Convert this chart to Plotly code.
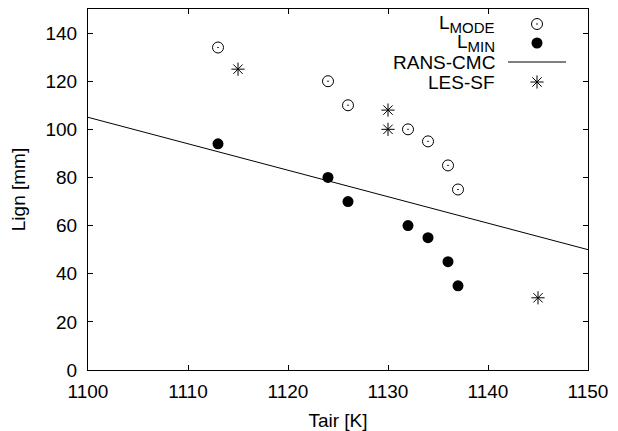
import plotly.graph_objects as go

# Data
tair_mode = [1113, 1124, 1126, 1132, 1134, 1136, 1137]
l_mode = [134, 120, 110, 100, 95, 85, 75]
tair_min = [1113, 1124, 1126, 1132, 1134, 1136, 1137]
l_min = [94, 80, 70, 60, 55, 45, 35]
tair_les = [1115, 1130, 1130, 1145]
l_les = [125, 108, 100, 30]
tair_rans = [1100, 1150]
l_rans = [105, 50]

x_ticks = [1100, 1110, 1120, 1130, 1140, 1150]
y_ticks = [0, 20, 40, 60, 80, 100, 120, 140]

legend_names = ["L<sub><span style='font-size:15px'>MODE</span></sub>",
                "L<sub><span style='font-size:15px'>MIN</span></sub>",
                "RANS-CMC", "LES-SF"]

FONT = "Liberation Sans, Arial, sans-serif"
FS = 19

fig = go.Figure()
fig.add_trace(go.Scatter(x=tair_rans, y=l_rans, mode="lines",
                         line=dict(color="black", width=1), showlegend=False))
fig.add_trace(go.Scatter(x=tair_mode, y=l_mode, mode="markers",
                         marker=dict(symbol="circle-open-dot", size=11, color="black",
                                     line=dict(width=1, color="black")), showlegend=False))
fig.add_trace(go.Scatter(x=tair_min, y=l_min, mode="markers",
                         marker=dict(symbol="circle", size=11, color="black"), showlegend=False))
fig.add_trace(go.Scatter(x=tair_les, y=l_les, mode="markers",
                         marker=dict(symbol="asterisk-open", size=11, color="black",
                                     line=dict(width=1, color="black")), showlegend=False))

# Manual gnuplot-style legend (text right-aligned, key on the right), in pixel-like coords
row_y = [24, 43, 62, 82]
key_x = 537
text_x = 497
fig.add_trace(go.Scatter(x=[key_x], y=[row_y[0]], xaxis="x2", yaxis="y2", mode="markers",
                         marker=dict(symbol="circle-open-dot", size=11, color="black",
                                     line=dict(width=1, color="black")), showlegend=False, hoverinfo="skip"))
fig.add_trace(go.Scatter(x=[key_x], y=[row_y[1]], xaxis="x2", yaxis="y2", mode="markers",
                         marker=dict(symbol="circle", size=11, color="black"), showlegend=False, hoverinfo="skip"))
fig.add_trace(go.Scatter(x=[508, 566], y=[row_y[2], row_y[2]], xaxis="x2", yaxis="y2", mode="lines",
                         line=dict(color="#555555", width=1.5), showlegend=False, hoverinfo="skip"))
fig.add_trace(go.Scatter(x=[key_x], y=[row_y[3]], xaxis="x2", yaxis="y2", mode="markers",
                         marker=dict(symbol="asterisk-open", size=11, color="black",
                                     line=dict(width=1, color="black")), showlegend=False, hoverinfo="skip"))

annotations = []
for name, yy in zip(legend_names, row_y):
    annotations.append(dict(x=text_x, y=yy, xref="x2", yref="y2", text=name, showarrow=False,
                            xanchor="right", yanchor="middle",
                            font=dict(family=FONT, size=FS, color="black")))

axis_common = dict(showgrid=False, zeroline=False, showline=True, linecolor="black", linewidth=1,
                   mirror="allticks", ticks="inside", ticklen=5, tickcolor="black",
                   tickfont=dict(family=FONT, size=FS, color="black"), automargin=False)

fig.update_layout(
    width=618, height=431,
    margin=dict(l=88, r=30, t=9, b=61),
    paper_bgcolor="white", plot_bgcolor="white",
    xaxis=dict(range=[1100, 1150], tickvals=x_ticks, ticklabelstandoff=4,
               title=dict(text="Tair [K]", font=dict(family=FONT, size=FS, color="black"), standoff=14),
               **axis_common),
    yaxis=dict(range=[0, 150], tickvals=y_ticks, ticklabelstandoff=6,
               title=dict(text="Lign [mm]", font=dict(family=FONT, size=FS, color="black"), standoff=14),
               **axis_common),
    xaxis2=dict(range=[88, 588], overlaying="x", visible=False, fixedrange=True),
    yaxis2=dict(range=[370, 9], overlaying="y", visible=False, fixedrange=True),
    annotations=annotations,
    showlegend=False,
)

fig.write_html("out.html")
